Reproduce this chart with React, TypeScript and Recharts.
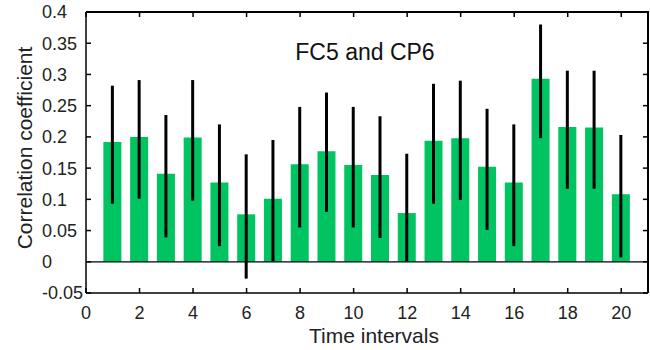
import { Bar, ComposedChart, XAxis, YAxis, ErrorBar, ReferenceLine, Customized } from 'recharts'

const intervals = [1, 2, 3, 4, 5, 6, 7, 8, 9, 10, 11, 12, 13, 14, 15, 16, 17, 18, 19, 20]
const corr = [0.192, 0.2, 0.141, 0.199, 0.127, 0.076, 0.101, 0.156, 0.177, 0.155, 0.139, 0.078, 0.194, 0.198, 0.152, 0.127, 0.293, 0.216, 0.215, 0.108]
const upper = [0.282, 0.291, 0.235, 0.291, 0.22, 0.172, 0.195, 0.248, 0.271, 0.248, 0.233, 0.173, 0.285, 0.29, 0.245, 0.22, 0.38, 0.306, 0.306, 0.203]
const lower = [0.093, 0.101, 0.039, 0.098, 0.025, -0.027, 0.001, 0.055, 0.08, 0.055, 0.038, 0.001, 0.093, 0.099, 0.051, 0.025, 0.198, 0.117, 0.117, 0.007]

const xTicks = [0, 2, 4, 6, 8, 10, 12, 14, 16, 18, 20]
const yTicks = [-0.05, 0, 0.05, 0.1, 0.15, 0.2, 0.25, 0.3, 0.35, 0.4]
const xMax = 21
const yMin = -0.05
const yMax = 0.4

const data = intervals.map((t, i) => ({
  t,
  r: corr[i],
  err: [+(corr[i] - lower[i]).toFixed(3), +(upper[i] - corr[i]).toFixed(3)],
}))

const FONT = '"Liberation Sans", Arial, sans-serif'
// inward tick length on the top / right sides, in data units (~5px)
const TICK_DX = 0.19
const TICK_DY = 0.008

const YTick = ({ y, payload }: any) => (
  <text x={42} y={y} dy="0.36em" textAnchor="start" fontSize={18} fontFamily={FONT} fill="#222">
    {String(+Number(payload.value).toFixed(2))}
  </text>
)

export default function App() {
  return (
    <div style={{ position: 'absolute', left: 0, top: 0, width: 650, height: 350, background: '#fff' }}>
      <ComposedChart width={650} height={350} data={data} margin={{ top: 12, right: 2, bottom: 0, left: 0 }}>
        <XAxis
          dataKey="t"
          type="number"
          domain={[0, xMax]}
          ticks={xTicks}
          interval={0}
          height={57}
          tickSize={-5}
          tickMargin={18}
          stroke="#000"
          strokeWidth={1.5}
          tick={{ fontSize: 18, fontFamily: FONT, fill: '#222' }}
          label={{
            content: () => (
              <text x={374} y={343} textAnchor="middle" fontSize={21} fontFamily={FONT} fill="#222">
                Time intervals
              </text>
            ),
          }}
        />
        <YAxis
          type="number"
          domain={[yMin, yMax]}
          ticks={yTicks}
          interval={0}
          width={86}
          tickSize={-5}
          stroke="#000"
          strokeWidth={1.5}
          tick={<YTick />}
          label={{
            content: () => (
              <text
                x={24}
                y={148}
                transform="rotate(-90 24 148)"
                textAnchor="middle"
                dy="0.36em"
                fontSize={21}
                fontFamily={FONT}
                fill="#222"
              >
                Correlation coefficient
              </text>
            ),
          }}
        />
        <Bar dataKey="r" fill="#00c462" barSize={18} isAnimationActive={false}>
          <ErrorBar dataKey="err" width={0} strokeWidth={3} stroke="#000" direction="y" />
        </Bar>
        <ReferenceLine y={0} stroke="#000" strokeWidth={1.2} />
        <ReferenceLine y={yMax} stroke="#000" strokeWidth={1.5} ifOverflow="visible" />
        <ReferenceLine x={xMax} stroke="#000" strokeWidth={1.5} ifOverflow="visible" />
        {xTicks.map((t) => (
          <ReferenceLine
            key={'xt' + t}
            segment={[{ x: t, y: yMax }, { x: t, y: yMax - TICK_DY }]}
            stroke="#000"
            strokeWidth={1.5}
            ifOverflow="visible"
          />
        ))}
        {yTicks.map((v) => (
          <ReferenceLine
            key={'yt' + v}
            segment={[{ x: xMax - TICK_DX, y: v }, { x: xMax, y: v }]}
            stroke="#000"
            strokeWidth={1.5}
            ifOverflow="visible"
          />
        ))}
        <Customized
          component={() => (
            <text x={365} y={60} textAnchor="middle" fontSize={23} fontFamily={FONT} fill="#111">
              FC5 and CP6
            </text>
          )}
        />
      </ComposedChart>
      <div
        style={{
          position: 'absolute',
          left: 86,
          top: 11,
          width: 563,
          height: 282,
          boxSizing: 'border-box',
          borderTop: '2px solid #000',
          borderRight: '2px solid #000',
          pointerEvents: 'none',
        }}
      />
    </div>
  )
}
